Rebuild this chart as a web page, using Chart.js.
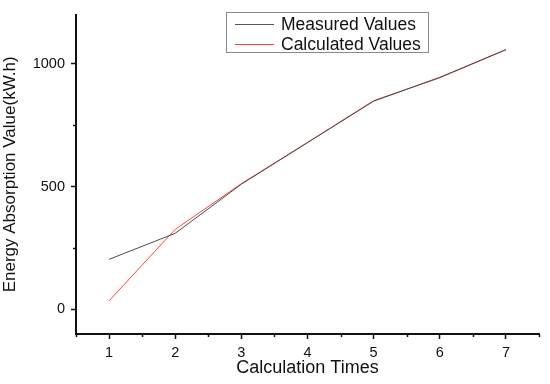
<!DOCTYPE html>
<html>
<head>
<meta charset="utf-8">
<script src="https://cdn.jsdelivr.net/npm/chart.js@4"></script>
<style>
  html, body { margin: 0; padding: 0; background: #fff; }
  #wrap { position: relative; width: 550px; height: 384px; }
  #legend {
    position: absolute; left: 226px; top: 12px; width: 201px; height: 39px;
    border: 1px solid #8a8a8a; background: #fff;
    font-family: "Liberation Sans", Arial, sans-serif; font-size: 17.5px; color: #111;
  }
  .row { position: absolute; left: 0; height: 20px; line-height: 20px; white-space: nowrap; }
  .row span.line { position: absolute; left: 8px; top: 10px; width: 39px; height: 1px; }
  .row span.txt { position: absolute; left: 54px; top: 0; }
</style>
</head>
<body>
<div id="wrap">
  <canvas id="chart" width="550" height="384"></canvas>
  <div id="legend">
    <div class="row" style="top:1px"><span class="line" style="background:#555"></span><span class="txt">Measured Values</span></div>
    <div class="row" style="top:21px"><span class="line" style="background:#ff4040"></span><span class="txt">Calculated Values</span></div>
  </div>
</div>
<script>
const calcTimes = [1, 2, 3, 4, 5, 6, 7];
const measuredValues = [204, 310, 510, 679, 848, 945, 1058];
const calculatedValues = [35, 326, 512, 680, 850, 943, 1057];
const yTicks = [0, 250, 500, 750, 1000];
const yLabels = [0, 500, 1000];

const fontFamily = '"Liberation Sans", Arial, sans-serif';

function points(values) {
    return calcTimes.map(function(x, i) { return { x: x, y: values[i] }; });
}

function isMajorX(v) { return Number.isInteger(v); }
function isMajorY(v) { return yLabels.indexOf(v) >= 0; }

// minor ticks are shorter than the major ones
const minorTicks = {
    id: 'minorTicks',
    afterDraw: function(chart) {
        const c = chart.ctx;
        const xs = chart.scales.x, ys = chart.scales.y;
        c.save();
        c.strokeStyle = '#111';
        c.lineWidth = 1.5;
        c.beginPath();
        xs.ticks.forEach(function(t) {
            if (isMajorX(t.value)) return;
            const px = Math.round(xs.getPixelForValue(t.value)) + 0.5;
            c.moveTo(px, chart.chartArea.bottom);
            c.lineTo(px, chart.chartArea.bottom + 3);
        });
        ys.ticks.forEach(function(t) {
            if (isMajorY(t.value)) return;
            const py = Math.round(ys.getPixelForValue(t.value)) + 0.5;
            c.moveTo(chart.chartArea.left, py);
            c.lineTo(chart.chartArea.left - 3, py);
        });
        c.stroke();
        c.restore();
    }
};

const ctx = document.getElementById('chart').getContext('2d');
new Chart(ctx, {
    type: 'line',
    data: {
        datasets: [
            {
                label: 'Measured Values',
                data: points(measuredValues),
                borderColor: '#4a4a4a',
                borderWidth: 1,
                pointRadius: 0,
                tension: 0
            },
            {
                label: 'Calculated Values',
                data: points(calculatedValues),
                borderColor: '#ff4040',
                borderWidth: 1,
                pointRadius: 0,
                tension: 0
            }
        ]
    },
    options: {
        responsive: false,
        animation: false,
        layout: { padding: { top: 10, right: 11, left: 0, bottom: 0 } },
        plugins: {
            legend: { display: false },
            tooltip: { enabled: false }
        },
        scales: {
            x: {
                type: 'linear',
                min: 0.5,
                max: 7.5,
                afterBuildTicks: function(scale) {
                    const t = [];
                    for (let v = 0.5; v <= 7.5; v += 0.5) t.push({ value: v });
                    scale.ticks = t;
                },
                afterFit: function(scale) { scale.height = 50; },
                border: { display: true, color: '#111', width: 2 },
                grid: {
                    drawOnChartArea: false, drawTicks: true, tickLength: 5, tickWidth: 1.5,
                    tickColor: function(c) { return c.tick && isMajorX(c.tick.value) ? '#111' : 'rgba(0,0,0,0)'; }
                },
                ticks: {
                    autoSkip: false,
                    maxRotation: 0,
                    padding: 5,
                    color: '#111',
                    font: { family: fontFamily, size: 14.5 },
                    callback: function(v) { return isMajorX(v) ? String(v) : ''; }
                },
                title: {
                    display: true,
                    text: 'Calculation Times',
                    color: '#111',
                    font: { family: fontFamily, size: 18 },
                    padding: { top: 0, bottom: 5 }
                }
            },
            y: {
                type: 'linear',
                min: -100,
                max: 1200,
                afterBuildTicks: function(scale) {
                    scale.ticks = yTicks.map(function(v) { return { value: v }; });
                },
                afterFit: function(scale) { scale.width = 76; },
                border: { display: true, color: '#111', width: 2 },
                grid: {
                    drawOnChartArea: false, drawTicks: true, tickLength: 5, tickWidth: 1.5,
                    tickColor: function(c) { return c.tick && isMajorY(c.tick.value) ? '#111' : 'rgba(0,0,0,0)'; }
                },
                ticks: {
                    padding: 6,
                    color: '#111',
                    font: { family: fontFamily, size: 14.5 },
                    callback: function(v) { return isMajorY(v) ? String(v) : ''; }
                },
                title: {
                    display: true,
                    text: 'Energy Absorption Value(kW.h)',
                    color: '#111',
                    font: { family: fontFamily, size: 17 },
                    padding: { top: 0, bottom: 0 }
                }
            }
        }
    },
    plugins: [minorTicks]
});
</script>
</body>
</html>
